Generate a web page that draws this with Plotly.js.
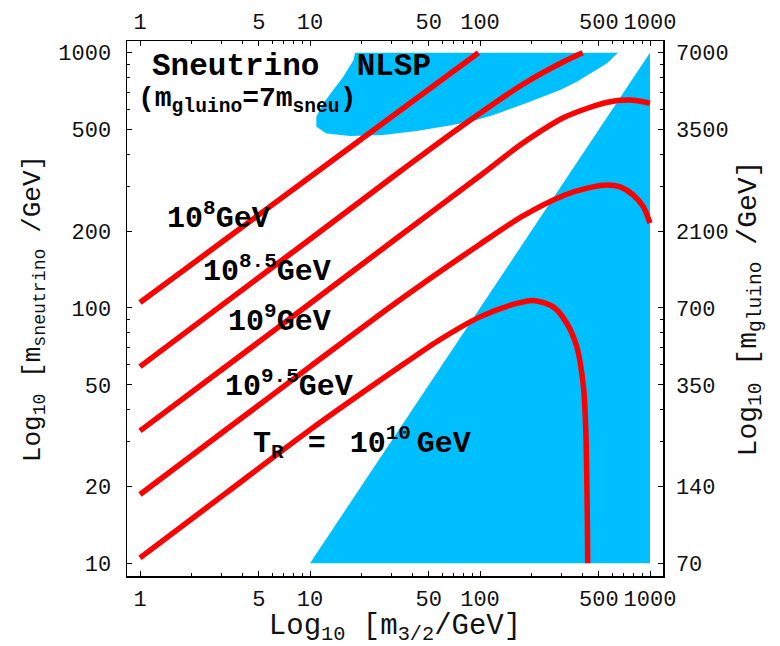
<!DOCTYPE html>
<html>
<head>
<meta charset="utf-8">
<script src="https://cdn.plot.ly/plotly-3.0.1.min.js"></script>
<style>
  html, body { margin: 0; padding: 0; background: #fff; }
  #plot { width: 780px; height: 646px; }
</style>
</head>
<body>
<div id="plot"></div>
<script>
// Gravitino mass (x) against sneutrino mass (y); reheating-temperature contours.

// Ticks
const xTickVals = [1, 5, 10, 50, 100, 500, 1000];
const xTickText = ["1", "5", "10", "50", "100", "500", "1000"];
const xMinorVals = [2, 3, 4, 6, 7, 8, 9, 20, 30, 40, 60, 70, 80, 90, 200, 300, 400, 600, 700, 800, 900];
const yTickVals = [10, 20, 50, 100, 200, 500, 1000];
const yTickText = ["10", "20", "50", "100", "200", "500", "1000"];
const yMinorVals = [30, 40, 60, 70, 80, 90, 300, 400, 600, 700, 800, 900];
const gluinoTickText = ["70", "140", "350", "700", "2100", "3500", "7000"];

// Excluded region: m_3/2 > m_sneutrino
const stauX = [10, 1000, 1000, 10];
const stauY = [10, 10, 1000, 10];

// Excluded region in the upper part of the plane
const blobX = [18.4, 649, 556, 464, 371, 296, 188, 120, 87.3, 63.7, 42.4, 26.9, 17.2, 12.5, 10.9, 10.9, 12.0, 13.7, 15.7, 18.0];
const blobY = [1000, 1000, 908, 843, 769, 714, 635, 570, 537, 516, 494, 476, 472, 483, 513, 561, 634, 714, 805, 935];

// Reheating-temperature contours
const tr80X = [1, 3.16, 10, 31.6, 98];
const tr80Y = [105, 185, 326, 574, 1000];

const tr85X = [1, 3.16, 10, 31.6, 56.2, 100, 178, 316, 402];
const tr85Y = [58.9, 104.7, 186, 331, 440, 579, 751, 928, 1000];

const tr90X = [1, 3.16, 10, 31.6, 100, 178, 316, 562, 759, 1000];
const tr90Y = [33.0, 58.6, 104.2, 185.4, 329.6, 441.6, 559.8, 639.7, 653, 635];

const tr95X = [1, 3.16, 10, 31.6, 100, 178, 316, 422, 562, 667, 798, 914, 1000];
const tr95Y = [18.6, 33.1, 58.9, 104.2, 177.8, 229, 277, 294, 303, 298, 277, 249, 215];

const tr100X = [1, 3.16, 10, 31.6, 56.2, 100, 158, 206, 270, 324, 371, 406, 419, 424, 428, 430];
const tr100Y = [10.5, 18.7, 33.3, 57.1, 74.1, 92.3, 103.5, 107, 101, 87.1, 70.5, 49.2, 33.3, 23.2, 14.8, 10];

const BLUE = "#00bfff";
const RED = "#ff0000";
const MONO = "Liberation Mono, Courier New, monospace";

function region(x, y) {
  return { x: x, y: y, type: "scatter", mode: "lines", fill: "toself",
           fillcolor: BLUE, line: { width: 0, color: BLUE },
           hoverinfo: "skip", showlegend: false };
}
function contour(x, y) {
  return { x: x, y: y, type: "scatter", mode: "lines",
           line: { color: RED, width: 5.5, shape: "spline", smoothing: 0.8 },
           showlegend: false };
}

const traces = [
  region(stauX, stauY),
  region(blobX, blobY),
  contour(tr80X, tr80Y),
  contour(tr85X, tr85Y),
  contour(tr90X, tr90Y),
  contour(tr95X, tr95Y),
  contour(tr100X, tr100Y),
  { x: [], y: [], xaxis: "x2", yaxis: "y2", type: "scatter", mode: "lines",
    showlegend: false, hoverinfo: "skip" }
];

// Plot frame in pixels
const L = 127, R = 663, T = 41, B = 576;
function px(xp) { return (xp - L) / (R - L); }
function py(yp) { return (B - yp) / (B - T); }

const xRange = [-0.0765, 3.0765];
const yRange = [0.950, 3.046];

const tickFont = { family: MONO, size: 22, color: "#111" };

function xAxisBase() {
  return {
    type: "log", range: xRange, autorange: false,
    tickmode: "array", tickvals: xTickVals, ticktext: xTickText,
    ticks: "inside", ticklen: 5, tickwidth: 1, tickcolor: "#000",
    minor: { tickmode: "array", tickvals: xMinorVals, ticks: "inside", ticklen: 3, tickwidth: 1, tickcolor: "#000" },
    showgrid: false, zeroline: false, showline: true, linecolor: "#000", linewidth: 1.5,
    tickfont: tickFont, ticklabelstandoff: 2
  };
}
function yAxisBase(text, standoff) {
  return {
    type: "log", range: yRange, autorange: false,
    tickmode: "array", tickvals: yTickVals, ticktext: text,
    ticks: "inside", ticklen: 5, tickwidth: 1, tickcolor: "#000",
    minor: { tickmode: "array", tickvals: yMinorVals, ticks: "inside", ticklen: 3, tickwidth: 1, tickcolor: "#000" },
    showgrid: false, zeroline: false, showline: true, linecolor: "#000", linewidth: 1.5,
    tickfont: tickFont, ticklabelstandoff: standoff
  };
}

const xaxis = Object.assign(xAxisBase(), {
  title: { text: "Log<sub>10</sub> [m<sub>3/2</sub>/GeV]",
           font: { family: MONO, size: 29, color: "#111" }, standoff: 9 }
});
const xaxis2 = Object.assign(xAxisBase(), { overlaying: "x", side: "top", anchor: "y" });
const yaxis = Object.assign(yAxisBase(yTickText, 10), {
  title: { text: "Log<sub>10</sub> [m<sub>sneutrino</sub> /GeV]",
           font: { family: MONO, size: 26, color: "#111" }, standoff: 10 }
});
const yaxis2 = Object.assign(yAxisBase(gluinoTickText, 7), {
  overlaying: "y", side: "right", anchor: "x",
  title: { text: "Log<sub>10</sub> [m<sub>gluino</sub> /GeV]",
           font: { family: MONO, size: 28, color: "#111" }, standoff: 8 }
});

const labelFont = { family: MONO, size: 30, color: "#000", weight: "bold" };
function label(text, xp, yp, size) {
  return { text: text, xref: "paper", yref: "paper", x: px(xp), y: py(yp),
           xanchor: "left", yanchor: "middle", showarrow: false,
           font: Object.assign({}, labelFont, size ? { size: size } : {}) };
}

const annotations = [
  label("<b>Sneutrino\u00a0\u00a0NLSP</b>", 150, 66, 31),
  label("<b>(m<sub>gluino</sub>=7m<sub>sneu</sub>)</b>", 136, 100, 28),
  label("<b>10<sup>8</sup>GeV</b>", 165, 216),
  label("<b>10<sup>8.5</sup>GeV</b>", 201, 269),
  label("<b>10<sup>9</sup>GeV</b>", 226, 319),
  label("<b>10<sup>9.5</sup>GeV</b>", 223, 384),
  label("<b>T<sub>R</sub>\u2009 =\u2009 10<sup>10</sup>\u2009GeV</b>", 251, 443)
];

const layout = {
  width: 780, height: 646,
  margin: { l: L, r: 780 - R, t: T, b: 646 - B, pad: 0 },
  paper_bgcolor: "#fff", plot_bgcolor: "#fff",
  showlegend: false,
  xaxis: xaxis, xaxis2: xaxis2, yaxis: yaxis, yaxis2: yaxis2,
  annotations: annotations
};

Plotly.newPlot("plot", traces, layout, { displayModeBar: false, staticPlot: true });
</script>
</body>
</html>
